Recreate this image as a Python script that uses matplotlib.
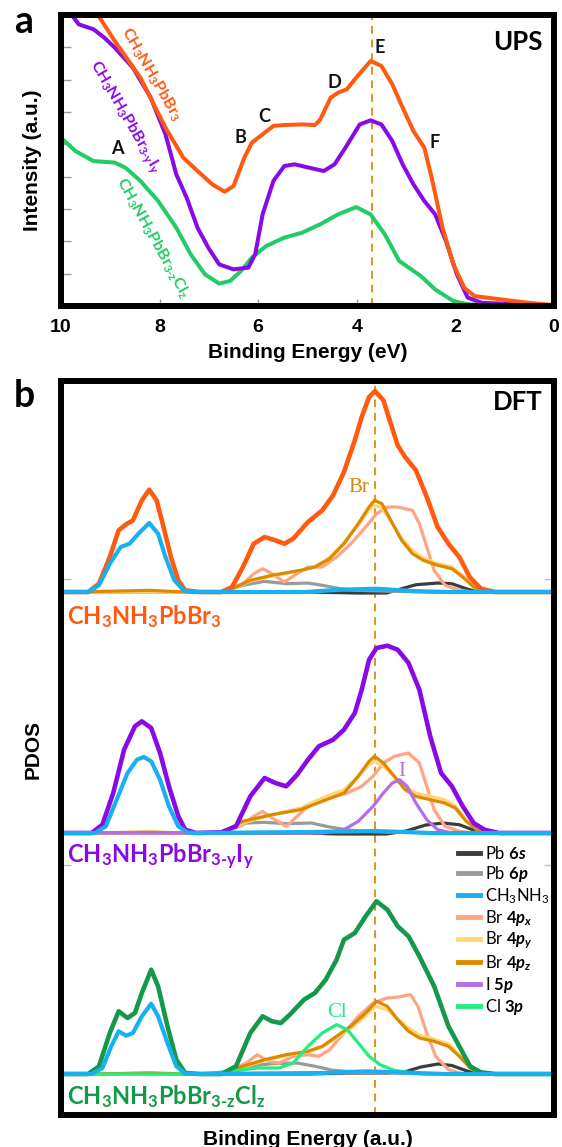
import matplotlib
matplotlib.use("Agg")
import matplotlib.pyplot as plt
from matplotlib.lines import Line2D

plt.rcParams["font.family"] = ["Lato", "DejaVu Sans"]
plt.rcParams["mathtext.fontset"] = "custom"
plt.rcParams["mathtext.rm"] = "Lato:bold"
plt.rcParams["mathtext.bf"] = "Lato:bold"
plt.rcParams["mathtext.it"] = "Lato:italic:bold"
plt.rcParams["mathtext.sf"] = "Lato"

# ---------------- UPS spectra (binding energy in eV, normalised intensity) ----------------
ups_br = [(9.25, 1.0), (8.91, 0.911), (8.39, 0.785), (7.88, 0.613), (7.52, 0.510), (7.23, 0.464),
          (6.93, 0.418), (6.68, 0.393), (6.50, 0.412), (6.28, 0.510), (6.13, 0.561), (5.91, 0.590),
          (5.69, 0.619), (5.47, 0.622), (5.11, 0.624), (4.85, 0.622), (4.74, 0.641), (4.53, 0.716),
          (4.38, 0.733), (4.20, 0.745), (4.01, 0.785), (3.72, 0.842), (3.50, 0.825), (3.28, 0.762),
          (3.07, 0.682), (2.85, 0.601), (2.63, 0.544), (2.48, 0.441), (2.26, 0.269), (2.04, 0.143),
          (1.82, 0.063), (1.61, 0.034), (1.09, 0.023), (0.51, 0.011), (0.0, 0.003)]
ups_bri = [(9.78, 1.0), (9.64, 0.968), (9.34, 0.951), (9.12, 0.922), (8.91, 0.888), (8.54, 0.819),
           (8.18, 0.716), (7.88, 0.590), (7.66, 0.452), (7.45, 0.372), (7.23, 0.269), (7.01, 0.200),
           (6.79, 0.143), (6.50, 0.126), (6.20, 0.132), (6.06, 0.178), (5.91, 0.315), (5.69, 0.430),
           (5.47, 0.481), (5.26, 0.487), (4.96, 0.475), (4.67, 0.464), (4.45, 0.487), (4.23, 0.544),
           (3.94, 0.624), (3.72, 0.638), (3.50, 0.624), (3.28, 0.567), (3.07, 0.487), (2.85, 0.418),
           (2.63, 0.361), (2.41, 0.315), (2.19, 0.223), (1.97, 0.109), (1.75, 0.029), (1.46, 0.011),
           (0.73, 0.006), (0.0, 0.002)]
ups_brcl = [(10.0, 0.578), (9.71, 0.533), (9.34, 0.498), (8.91, 0.493), (8.69, 0.475), (8.39, 0.430),
            (8.03, 0.361), (7.66, 0.269), (7.37, 0.178), (7.08, 0.109), (6.79, 0.077), (6.57, 0.086),
            (6.35, 0.120), (6.13, 0.166), (5.84, 0.206), (5.47, 0.235), (5.11, 0.252), (4.74, 0.281),
            (4.38, 0.315), (4.01, 0.340), (3.72, 0.315), (3.43, 0.246), (3.14, 0.155), (2.70, 0.103),
            (2.41, 0.057), (2.04, 0.017), (1.75, 0.006), (1.09, 0.003), (0.0, 0.001)]
ups_peaks = ["A", "B", "C", "D", "E", "F"]
ups_peak_pos = [(8.85, 0.54), (6.35, 0.578), (5.88, 0.653), (4.45, 0.767), (3.54, 0.888), (2.42, 0.561)]
e_ref = 3.7

# ---------------- DFT PDOS (binding energy a.u. 0-100, height above baseline) ----------------
# CH3NH3PbBr3
br_total = [(0, 0), (5.5, 0), (7.7, 8.3), (9.9, 35), (11.7, 61.7), (13.2, 67.7), (14.6, 71.7), (16.4, 91.7),
            (17.9, 102.3), (19.4, 91.7), (20.8, 65), (22.3, 35), (23.8, 11.7), (25.2, 1.7), (28.1, 0),
            (32.5, 0), (34.7, 5), (36.9, 25), (39.1, 48.3), (41.3, 55), (43.5, 51.7), (45.3, 48.3),
            (47.1, 53.3), (50.1, 70), (53.0, 81.7), (55.2, 96.7), (57.4, 120), (59.6, 151.7), (61.0, 175),
            (62.5, 195), (63.7, 201), (65.4, 191.7), (66.9, 168.3), (68.3, 146.7), (69.8, 135), (72.0, 121.7),
            (74.2, 95), (76.4, 65), (78.6, 48.3), (80.8, 35), (82.9, 15), (85.2, 3.3), (88.1, 0), (100, 0)]
br_ma = [(0, 0), (5.5, 0), (7.7, 6.7), (9.9, 28.3), (12.1, 45), (13.9, 48.3), (15.7, 58.3), (17.9, 69),
         (19.7, 58.3), (21.2, 35), (23.0, 11.7), (24.9, 1.7), (26.7, 0), (49.3, 0), (56.7, 2.3), (64.0, 3.3),
         (71.3, 1), (78.6, 0), (100, 0)]
br_pz = [(0, 0), (9.1, 0.7), (17.9, 1.7), (25.2, 0), (32.5, 0), (35.5, 5), (38.4, 11.7), (42.8, 16.7),
         (48.6, 21.7), (51.5, 25), (54.5, 33.3), (57.4, 48.3), (60.3, 68.3), (62.5, 85), (63.6, 91.7),
         (65.1, 88.3), (66.9, 71.7), (69.1, 51.7), (71.3, 38.3), (73.5, 31.7), (76.4, 26.7), (79.3, 23.3),
         (81.5, 15), (83.7, 5), (85.5, 0), (100, 0)]
br_py = [(0, 0), (25.2, 0), (32.5, 0), (35.5, 4.5), (38.4, 11), (42.8, 16), (48.6, 21.5), (51.5, 25.5),
         (54.5, 34.5), (57.4, 49.5), (60.3, 67), (62.5, 82), (63.4, 86.7), (65.1, 84.5), (66.9, 71),
         (69.1, 54), (71.3, 41.5), (73.5, 34), (76.4, 28.5), (79.3, 25), (81.5, 16.5), (83.7, 5.5),
         (85.7, 0), (100, 0)]
br_px = [(0, 0), (32.5, 0), (36.9, 8.3), (39.1, 18.3), (40.9, 23.3), (42.8, 18.3), (45.3, 10), (47.9, 18.3),
         (50.1, 25), (53.0, 25), (55.9, 35), (58.8, 48.3), (61.8, 65), (64.0, 78.3), (66.2, 85), (68.3, 85),
         (71.3, 81.7), (72.7, 68.3), (74.2, 45), (75.7, 21.7), (77.9, 6.7), (80.8, 1.7), (83.7, 0), (100, 0)]
br_6p = [(0, 0), (32.5, 0), (36.9, 6.7), (41.3, 10.7), (45.7, 8.3), (50.1, 9), (53.0, 6.7), (56.7, 3.3),
         (60.3, 1.7), (67.6, 0.7), (75.0, 0), (100, 0)]
br_6s = [(0, 0), (50, 0), (60, -1), (66, -1), (69.1, 3.3), (72.0, 7.3), (76.4, 9), (79.3, 8.3), (82.2, 3.3),
         (84.4, 0), (100, 0)]

# CH3NH3PbBr(3-y)Iy
bri_total = [(0, 0), (6.2, 0), (8.4, 8.3), (10.6, 40), (12.8, 83.3), (15.0, 106.7), (16.4, 111.7),
             (18.3, 105), (20.1, 80), (21.9, 46.7), (23.8, 16.7), (25.2, 3.3), (27.4, 0), (32.5, 0.7),
             (35.5, 6.7), (38.4, 36.7), (41.3, 55), (43.5, 50), (45.7, 46.7), (47.9, 58.3), (50.1, 73.3),
             (52.3, 86.7), (55.2, 93.3), (57.4, 103.3), (59.6, 120), (61.0, 143.3), (62.5, 173.3),
             (64.0, 185), (66.2, 187.3), (68.3, 183.3), (70.5, 170), (72.7, 143.3), (74.9, 96.7),
             (77.1, 60), (79.3, 46.7), (81.5, 26.7), (83.7, 10), (85.9, 3.3), (88.8, 0), (100, 0)]
bri_ma = [(0, 0), (6.9, 0), (9.1, 6.7), (11.3, 33.3), (13.5, 60), (15.4, 73.3), (16.8, 76), (18.3, 71.7),
          (20.1, 53.3), (21.9, 26.7), (23.8, 6.7), (25.6, 0.7), (27.4, 0), (50, 1), (64, 2), (75, 0), (100, 0)]
bri_pz = [(0, 0), (12, 0.5), (18, 1), (25, 0), (32.5, 0), (36.9, 11.7), (42.8, 18.3), (48.6, 23.3),
          (53.0, 31.7), (57.4, 40), (60.3, 56.7), (62.5, 71.7), (63.6, 76.7), (65.4, 70), (67.6, 56.7),
          (69.8, 43.3), (72.0, 36.7), (74.9, 33.3), (77.8, 30), (80.0, 25), (82.2, 11.7), (84.4, 3.3),
          (86.6, 0), (100, 0)]
bri_py = [(0, 0), (32.5, 0), (36.9, 10), (42.8, 18.3), (48.6, 25), (53.0, 35), (57.4, 43.3), (60.3, 56.7),
          (62.5, 68.3), (63.6, 71.7), (65.4, 66.7), (67.6, 56.7), (69.8, 46.7), (72.0, 40), (74.9, 36.7),
          (77.8, 33.3), (80.0, 27), (82.2, 13), (84.4, 3.3), (86.6, 0), (100, 0)]
bri_px = [(0, 0), (32.5, 0), (36.9, 8.3), (39.1, 16.7), (40.9, 21.7), (42.8, 15), (45.7, 6.7), (47.9, 16.7),
          (50.8, 30), (54.5, 35), (58.1, 40), (61.0, 46.7), (63.3, 56.7), (65.4, 70), (67.6, 76.7),
          (70.5, 80), (72.7, 70), (74.2, 46.7), (75.7, 23.3), (77.9, 6.7), (80.8, 1.7), (83.7, 0), (100, 0)]
bri_i5p = [(0, 0), (53.0, 0), (57.4, 3.3), (60.3, 11.7), (63.3, 26.7), (65.4, 40), (67.2, 50), (68.7, 53.3),
           (70.2, 46.7), (72.0, 30), (74.2, 13.3), (76.4, 3.3), (79.3, 0), (100, 0)]
bri_6p = [(0, 0), (32.5, 0), (37.6, 10), (41.3, 10.7), (45.7, 9.3), (50.8, 10), (54.5, 6), (58.8, 2.7),
          (63.9, 1.3), (71.3, 0.7), (76, 0), (100, 0)]
bri_6s = [(0, 0), (50, 0), (56, -1), (66, -1), (70, 2), (74, 8), (77.5, 10), (80.8, 8.3), (83.5, 3.3),
          (86, 0), (100, 0)]

# CH3NH3PbBr(3-z)Clz
brcl_total = [(0, 0), (5.5, 0), (7.7, 7.7), (9.9, 41), (11.7, 62.7), (13.5, 56), (15.0, 61), (16.4, 81),
              (18.3, 104.3), (19.7, 87.7), (21.6, 47.7), (23.4, 14.3), (25.2, 1), (28.1, 0), (32.5, 0),
              (35.5, 7.7), (38.4, 41), (40.9, 57.7), (42.8, 52.7), (44.6, 51), (46.4, 59.3), (49.3, 74.3),
              (51.5, 81), (53.7, 94.3), (55.9, 114.3), (57.4, 134.3), (59.6, 141), (61.8, 157.7),
              (64.0, 172.7), (66.2, 164.3), (68.3, 147.7), (70.5, 137.7), (72.7, 117.7), (75.7, 87.7),
              (78.6, 47.7), (80.8, 27.7), (83.0, 7.7), (85.2, 1.7), (88.1, 0), (100, 0)]
brcl_ma = [(0, 0), (6.2, 0), (8.4, 6), (10.2, 27.7), (11.7, 42.7), (13.2, 38.3), (14.6, 41), (16.4, 57.7),
           (18.3, 70.3), (19.7, 57.7), (21.6, 31), (23.4, 7.7), (25.2, 0.3), (27.4, 0), (53, 1), (62, 2.7),
           (72, 1), (78, 0), (100, 0)]
brcl_pz = [(0, 0), (12, 0.5), (18, 1.2), (25, 0), (32.5, 0), (36.9, 7.7), (41.3, 14.3), (45.7, 19.3),
           (50.1, 22.7), (53.0, 27.7), (55.9, 37.7), (58.8, 47.7), (61.8, 61), (64.0, 72.7), (66.2, 67.7),
           (68.3, 54.3), (70.5, 42.7), (72.7, 36), (75.7, 32.7), (78.6, 27.7), (80.8, 17.7), (83.0, 6),
           (85.2, 0), (100, 0)]
brcl_py = [(0, 0), (32.5, 0), (36.9, 7), (41.3, 13.3), (45.7, 18.3), (50.1, 22), (53.0, 27), (55.9, 36),
           (58.8, 45.7), (61.8, 58), (63.8, 67.7), (66.2, 64.3), (68.3, 55), (70.5, 46), (72.7, 39),
           (75.7, 35), (78.6, 30), (80.8, 19), (83.0, 6.3), (85.2, 0), (100, 0)]
brcl_px = [(0, 0), (32.5, 0), (37.6, 11), (39.8, 19.3), (42.0, 12.7), (44.2, 11), (47.1, 17.7), (50.1, 19.3),
           (52.3, 17.7), (54.5, 24.3), (57.4, 41), (60.3, 57.7), (63.3, 71), (66.2, 76), (68.3, 77),
           (70.9, 79.3), (72.4, 67.7), (74.2, 41), (76.0, 17.7), (78.6, 4.3), (81.5, 0.3), (84, 0), (100, 0)]
brcl_cl3p = [(0, 0), (28.1, 0), (34.7, 2.7), (39.8, 6), (44.2, 6), (47.1, 11), (50.1, 27.7), (53.0, 41),
             (55.9, 49.3), (58.1, 44.3), (60.3, 31), (62.5, 17.7), (64.7, 9.3), (67.6, 3.7), (71.3, 1),
             (74.9, 0), (100, 0)]
brcl_6p = [(0, 0), (32.5, 0), (37.6, 7.7), (42.8, 10.3), (47.9, 11), (51.5, 7.7), (55.2, 3.7), (60.3, 1.7),
           (67.6, 1), (75, 0), (100, 0)]
brcl_6s = [(0, 0), (50, 0), (58, 1), (66, 1), (70, 2.5), (73, 7), (76.5, 10), (79.3, 8.5), (82.2, 3.3),
           (84.4, 0), (100, 0)]

u_ref = 63.7

# colours
c_br, c_bri, c_brcl_ups, c_brcl = "#FF5A10", "#8A0AE6", "#22CC66", "#14994A"
c_6s, c_6p, c_ma = "#3C3C3C", "#9A9A9A", "#18B0F0"
c_px, c_py, c_pz = "#FFA584", "#FFD67A", "#DC8A00"
c_i5p, c_cl3p = "#B46EE6", "#22EE80"
c_dash = "#E8901A"

name_br = r"CH$_\mathbf{3}$NH$_\mathbf{3}$PbBr$_\mathbf{3}$"
name_bri = r"CH$_\mathbf{3}$NH$_\mathbf{3}$PbBr$_\mathbf{3\text{-}y}$I$_\mathbf{y}$"
name_brcl = r"CH$_\mathbf{3}$NH$_\mathbf{3}$PbBr$_\mathbf{3\text{-}z}$Cl$_\mathbf{z}$"


def xy(points):
    return [p[0] for p in points], [p[1] for p in points]


fig = plt.figure(figsize=(5.62, 11.47), dpi=100)

# ======================= panel a : UPS =======================
ax_a = fig.add_axes([0.1085, 0.7332, 0.8772, 0.2537])
ax_a.axvline(e_ref, color=c_dash, lw=1.4, ls=(0, (4, 3)), zorder=1.5)
for pts, col in [(ups_brcl, c_brcl_ups), (ups_bri, c_bri), (ups_br, c_br)]:
    e, i = xy(pts)
    ax_a.plot(e, i, color=col, lw=2.9, solid_joinstyle="round", solid_capstyle="round", zorder=3)

ax_a.set_xlim(10, 0)
ax_a.set_ylim(0, 1)
ax_a.set_xticks([10, 8, 6, 4, 2, 0])
ax_a.set_xticklabels(["10", "8", "6", "4", "2", "0"], fontfamily="Liberation Sans",
                     fontweight="bold", fontsize=14)
ax_a.set_yticks([k / 9 for k in range(1, 9)])
ax_a.set_yticklabels([])
ax_a.tick_params(axis="x", direction="in", length=5, width=1, color="#9A9A9A", pad=9)
ax_a.tick_params(axis="y", direction="in", length=7, width=1, color="#9A9A9A")

for name, (e, i) in zip(ups_peaks, ups_peak_pos):
    ax_a.text(e, i, name, ha="center", va="center", fontsize=13, fontweight="bold", color="#111111")
ax_a.text(0.24, 0.907, "UPS", ha="right", va="center", fontsize=18.5, fontweight="bold")

ax_a.text(8.17, 0.795, name_br, rotation=-60, rotation_mode="anchor", ha="center", va="center",
          fontsize=11.5, fontweight="bold", color=c_br)
ax_a.text(8.72, 0.65, name_bri, rotation=-60, rotation_mode="anchor", ha="center", va="center",
          fontsize=11.5, fontweight="bold", color=c_bri)
ax_a.text(8.14, 0.235, name_brcl, rotation=-61, rotation_mode="anchor", ha="center", va="center",
          fontsize=11.5, fontweight="bold", color=c_brcl_ups)

# ======================= panel b : DFT PDOS =======================
ax_b = fig.add_axes([0.1085, 0.0279, 0.8772, 0.6399])
ax_b.axvline(u_ref, color=c_dash, lw=1.4, ls=(0, (4, 3)), zorder=1.5)

panels = [
    (523, [(br_6s, c_6s), (br_6p, c_6p), (br_px, c_px), (br_py, c_py), (br_pz, c_pz)], br_total, c_br, br_ma),
    (282, [(bri_6s, c_6s), (bri_6p, c_6p), (bri_px, c_px), (bri_py, c_py), (bri_pz, c_pz),
           (bri_i5p, c_i5p)], bri_total, c_bri, bri_ma),
    (41, [(brcl_6s, c_6s), (brcl_6p, c_6p), (brcl_px, c_px), (brcl_py, c_py), (brcl_pz, c_pz),
          (brcl_cl3p, c_cl3p)], brcl_total, c_brcl, brcl_ma),
]
for base, parts, total, tcol, ma in panels:
    for pts, col in parts:
        u, h = xy(pts)
        ax_b.plot(u, [base + v for v in h], color=col, lw=2.3, solid_joinstyle="round", zorder=2)
    u, h = xy(total)
    ax_b.plot(u, [base + v for v in h], color=tcol, lw=3.3, solid_joinstyle="round", zorder=3)
    u, h = xy(ma)
    ax_b.plot(u, [base + v for v in h], color=c_ma, lw=3.0, solid_joinstyle="round", zorder=4)

ax_b.set_xlim(0, 100)
ax_b.set_ylim(0, 734)
ax_b.set_xticks([])
ax_b.set_yticks([250, 536])
ax_b.tick_params(axis="y", direction="in", length=7, width=1, color="#BBBBBB",
                 left=True, right=True, labelleft=False)

ax_b.text(1.3, 498, name_br, ha="left", va="center", fontsize=17, fontweight="bold", color=c_br)
ax_b.text(1.3, 258, name_bri, ha="left", va="center", fontsize=17, fontweight="bold", color=c_bri)
ax_b.text(1.3, 18, name_brcl, ha="left", va="center", fontsize=17, fontweight="bold", color=c_brcl)
ax_b.text(97.6, 713, "DFT", ha="right", va="center", fontsize=18.5, fontweight="bold")
ax_b.text(60.5, 628, "Br", ha="center", va="center", fontsize=15, family="Liberation Serif", color="#D4870A")
ax_b.text(69.1, 344, "I", ha="center", va="center", fontsize=15, family="Liberation Serif", color=c_i5p)
ax_b.text(55.9, 103, "Cl", ha="center", va="center", fontsize=15, family="Liberation Serif", color=c_cl3p)

legend_labels = ["Pb $\\mathit{6s}$", "Pb $\\mathit{6p}$", "CH$_\\mathsf{3}$NH$_\\mathsf{3}$",
                 "Br $\\mathit{4p}_\\mathit{x}$", "Br $\\mathit{4p}_\\mathit{y}$", "Br $\\mathit{4p}_\\mathit{z}$",
                 "I $\\mathit{5p}$", "Cl $\\mathit{3p}$"]
legend_colors = [c_6s, c_6p, c_ma, c_px, c_py, c_pz, c_i5p, c_cl3p]
handles = [Line2D([], [], color=c, lw=3.5) for c in legend_colors]
ax_b.legend(handles, legend_labels, loc="upper left", bbox_to_anchor=(0.805, 0.368), frameon=False,
            fontsize=12, borderpad=0, borderaxespad=0, handlelength=1.35, handletextpad=0.3,
            labelspacing=0.12)

for ax in (ax_a, ax_b):
    for sp in ax.spines.values():
        sp.set_linewidth(4.3)
        sp.set_color("black")
        sp.set_zorder(6)

# axis titles and panel letters
lab = dict(fontfamily="Liberation Sans", fontweight="bold", fontsize=15)
fig.text(0.547, 1 - 352 / 1147, "Binding Energy (eV)", ha="center", va="center", **lab)
fig.text(0.547, 0.002, "Binding Energy (a.u.)", ha="center", va="baseline", **lab)
fig.text(33 / 562, 1 - 160 / 1147, "Intensity (a.u.)", rotation=90, ha="center", va="center", **lab)
fig.text(33 / 562, 1 - 749 / 1147, "PDOS", rotation=90, ha="center", va="center", **lab)
fig.text(24 / 562, 1 - 33 / 1147, "a", ha="center", va="baseline", fontsize=27, fontweight="bold")
fig.text(24 / 562, 1 - 407 / 1147, "b", ha="center", va="baseline", fontsize=27, fontweight="bold")

fig.savefig("out.png", dpi=100)
